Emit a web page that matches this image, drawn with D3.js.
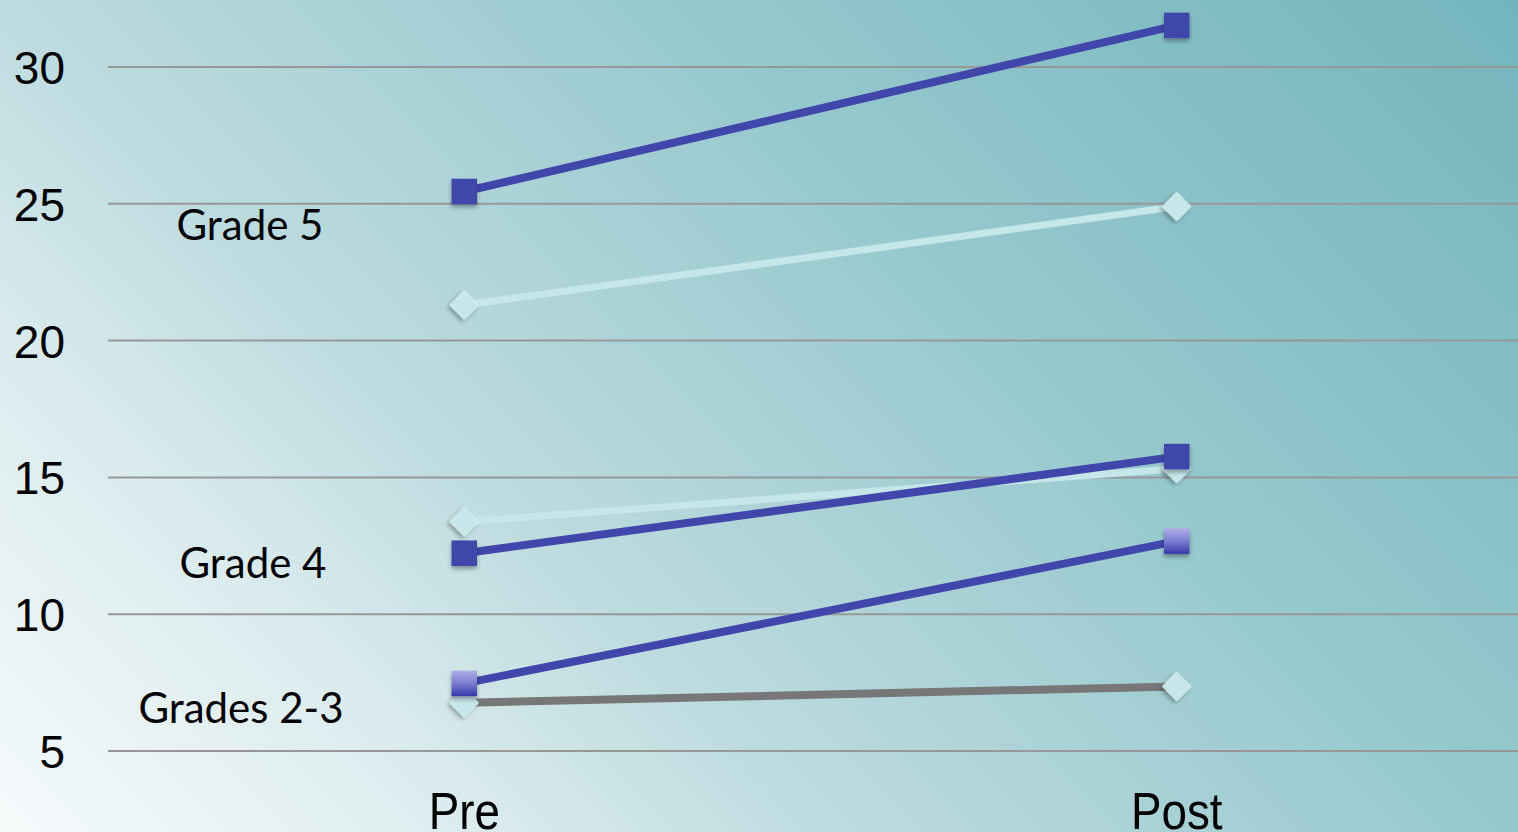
<!DOCTYPE html>
<html>
<head>
<meta charset="utf-8">
<script src="https://cdn.jsdelivr.net/npm/d3@7"></script>
<style>
html,body{margin:0;padding:0;overflow:hidden;background:#fff;}
svg{display:block;}
</style>
</head>
<body>
<svg id="chart" width="1518" height="832"></svg>
<script>
const categories = ["Pre", "Post"];
const yTicks = [5, 10, 15, 20, 25, 30];
const groupLabels = ["Grade 5", "Grade 4", "Grades 2-3"];
const grade5Dark = [25.45, 31.52];
const grade5Light = [21.3, 24.9];
const grade4Dark = [12.23, 15.76];
const grade4Light = [13.38, 15.32];
const grades23Dark = [7.47, 12.67];
const grades23Light = [6.76, 7.36];

const W = 1518, H = 832;
const svg = d3.select("#chart");
const defs = svg.append("defs");

const bg = defs.append("linearGradient").attr("id", "bg")
  .attr("gradientUnits", "userSpaceOnUse")
  .attr("x1", 0).attr("y1", 832).attr("x2", 1175).attr("y2", -343);
[[0, "#f6fafb"], [0.2, "#dcecee"], [0.36, "#bcdbdf"], [0.65, "#95c8cd"], [1, "#74b5bd"]]
  .forEach(([o, c]) => bg.append("stop").attr("offset", o).attr("stop-color", c));

const sq = defs.append("linearGradient").attr("id", "sqgrad")
  .attr("x1", 0).attr("y1", 0).attr("x2", 0).attr("y2", 1);
sq.append("stop").attr("offset", 0).attr("stop-color", "#b0aee8");
sq.append("stop").attr("offset", 0.5).attr("stop-color", "#7c7cd0");
sq.append("stop").attr("offset", 1).attr("stop-color", "#3438aa");

const sh = defs.append("filter").attr("id", "shadow")
  .attr("x", "-50%").attr("y", "-50%").attr("width", "200%").attr("height", "200%");
sh.append("feDropShadow").attr("dx", 0).attr("dy", 3).attr("stdDeviation", 2.2)
  .attr("flood-color", "#000").attr("flood-opacity", 0.35);

svg.append("rect").attr("width", W).attr("height", H).attr("fill", "url(#bg)");

const x = d3.scaleBand().domain(categories).range([108, 1533]).padding(0);
const cx = c => x(c) + x.bandwidth() / 2;
const y = d3.scaleLinear().domain([5, 30]).range([751, 67]);

// gridlines
svg.append("g").selectAll("line").data(yTicks).join("line")
  .attr("x1", 108).attr("x2", W)
  .attr("y1", d => y(d)).attr("y2", d => y(d))
  .attr("stroke", "#979797").attr("stroke-width", 2);

// y tick labels
svg.append("g").selectAll("text").data(yTicks).join("text")
  .attr("x", 65).attr("y", d => y(d) + 17)
  .attr("text-anchor", "end")
  .attr("font-family", "Liberation Sans, Arial, sans-serif")
  .attr("font-size", 46).attr("fill", "#000")
  .text(d => d);

// x labels
svg.append("g").selectAll("text").data(categories).join("text")
  .attr("transform", d => `translate(${cx(d)},829) scale(0.88,1)`)
  .attr("text-anchor", "middle")
  .attr("font-family", "Liberation Sans, Arial, sans-serif")
  .attr("font-size", 52).attr("fill", "#000")
  .text(d => d);

// group labels
const labelPos = [[250, 240], [253, 578], [241, 723]];
svg.append("g").selectAll("text").data(groupLabels).join("text")
  .attr("x", (d, i) => labelPos[i][0]).attr("y", (d, i) => labelPos[i][1])
  .attr("text-anchor", "middle")
  .attr("font-family", "Lato, 'Open Sans', sans-serif")
  .attr("font-size", 42).attr("fill", "#000")
  .text(d => d);

const series = [
  { vals: grades23Light, line: "#777777", lw: 8, marker: "diamond", fill: "#c6e7ea" },
  { vals: grades23Dark, line: "#4046aa", lw: 8, marker: "square", fill: "url(#sqgrad)" },
  { vals: grade4Light, line: "#c6e7ea", lw: 7, marker: "diamond", fill: "#c6e7ea" },
  { vals: grade4Dark, line: "#4046aa", lw: 8, marker: "square", fill: "#4046aa" },
  { vals: grade5Light, line: "#c6e7ea", lw: 7, marker: "diamond", fill: "#c6e7ea" },
  { vals: grade5Dark, line: "#4046aa", lw: 8, marker: "square", fill: "#4046aa" }
];

const lineGen = d3.line().x((d, i) => cx(categories[i])).y(d => y(d));
const sqSym = d3.symbol().type(d3.symbolSquare).size(25.5 * 25.5);
const diaSym = d3.symbol().type(d3.symbolSquare).size(20 * 20);

series.forEach(s => {
  const g = svg.append("g");
  g.append("path").datum(s.vals).attr("d", lineGen)
    .attr("fill", "none").attr("stroke", s.line).attr("stroke-width", s.lw);
  g.selectAll(".m").data(s.vals).join("path")
    .attr("class", "m")
    .attr("d", s.marker === "square" ? sqSym() : diaSym())
    .attr("transform", (d, i) => `translate(${cx(categories[i])},${y(d)})` + (s.marker === "diamond" ? " rotate(45)" : ""))
    .attr("fill", s.fill)
    .attr("stroke", s.marker === "diamond" ? "#d8f0f2" : "none")
    .attr("stroke-width", 1)
    .attr("filter", "url(#shadow)");
});
</script>
</body>
</html>
